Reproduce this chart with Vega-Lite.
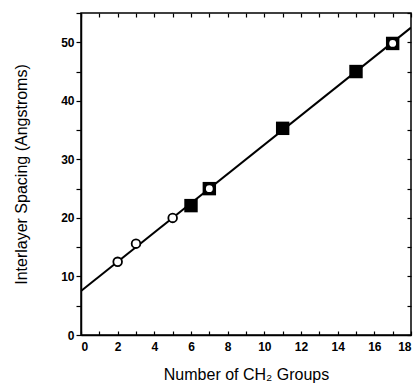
{
  "$schema": "https://vega.github.io/schema/vega-lite/v6.json",
  "width": 330,
  "height": 322,
  "autosize": "none",
  "padding": {"left": 81, "top": 13, "right": 9, "bottom": 55},
  "background": "white",
  "config": {
    "view": {"stroke": "black", "strokeWidth": 1.5},
    "axis": {
      "domainColor": "black", "domainWidth": 1.5, "tickColor": "black", "tickWidth": 1.2,
      "grid": false, "labelFont": "Liberation Sans", "labelFontWeight": "bold", "labelFontSize": 12,
      "labelColor": "black", "titleFont": "Liberation Sans", "titleFontWeight": "normal",
      "titleFontSize": 16, "titleColor": "black"
    }
  },
  "datasets": {
    "fit": [{"n": 0, "d": 7.5}, {"n": 18, "d": 52.5}],
    "squares": [{"n": 6, "d": 22.1}, {"n": 7, "d": 25.0}, {"n": 11, "d": 35.3}, {"n": 15, "d": 45.0}, {"n": 17, "d": 49.8}],
    "circles": [{"n": 2, "d": 12.5}, {"n": 3, "d": 15.6}, {"n": 5, "d": 20.0}, {"n": 7, "d": 25.0}, {"n": 17, "d": 49.8}]
  },
  "layer": [
    {
      "data": {"name": "fit"},
      "mark": {"type": "line", "color": "black", "strokeWidth": 2, "clip": true},
      "encoding": {
        "x": {"field": "n", "type": "quantitative", "scale": {"domain": [0, 18], "nice": false},
          "axis": {"title": "Number of CH₂ Groups", "values": [0,1,2,3,4,5,6,7,8,9,10,11,12,13,14,15,16,17,18],
            "labelExpr": "datum.value % 2 == 0 ? datum.label : ''", "tickSize": -4, "labelPadding": 10, "titlePadding": 14}},
        "y": {"field": "d", "type": "quantitative", "scale": {"domain": [0, 55], "nice": false},
          "axis": {"title": "Interlayer Spacing (Angstroms)", "values": [0,5,10,15,20,25,30,35,40,45,50,55],
            "labelExpr": "datum.value % 10 == 0 && datum.value <= 50 ? datum.label : ''", "tickSize": 5, "labelPadding": 2, "titlePadding": 31}}
      }
    },
    {
      "data": {"name": "squares"},
      "mark": {"type": "square", "color": "black", "filled": true, "opacity": 1, "size": 180},
      "encoding": {
        "x": {"field": "n", "type": "quantitative", "axis": {"orient": "top", "title": null, "labels": false, "domain": false, "tickSize": -4, "values": [0,1,2,3,4,5,6,7,8,9,10,11,12,13,14,15,16,17,18]}},
        "y": {"field": "d", "type": "quantitative", "axis": {"orient": "right", "title": null, "labels": false, "domain": false, "tickSize": -4, "values": [0,5,10,15,20,25,30,35,40,45,50,55]}}
      }
    },
    {
      "data": {"name": "circles"},
      "mark": {"type": "circle", "fill": "white", "stroke": "black", "strokeWidth": 1.8, "opacity": 1, "size": 75},
      "encoding": {
        "x": {"field": "n", "type": "quantitative", "axis": null},
        "y": {"field": "d", "type": "quantitative", "axis": null}
      }
    }
  ],
  "resolve": {"axis": {"x": "independent", "y": "independent"}}
}
